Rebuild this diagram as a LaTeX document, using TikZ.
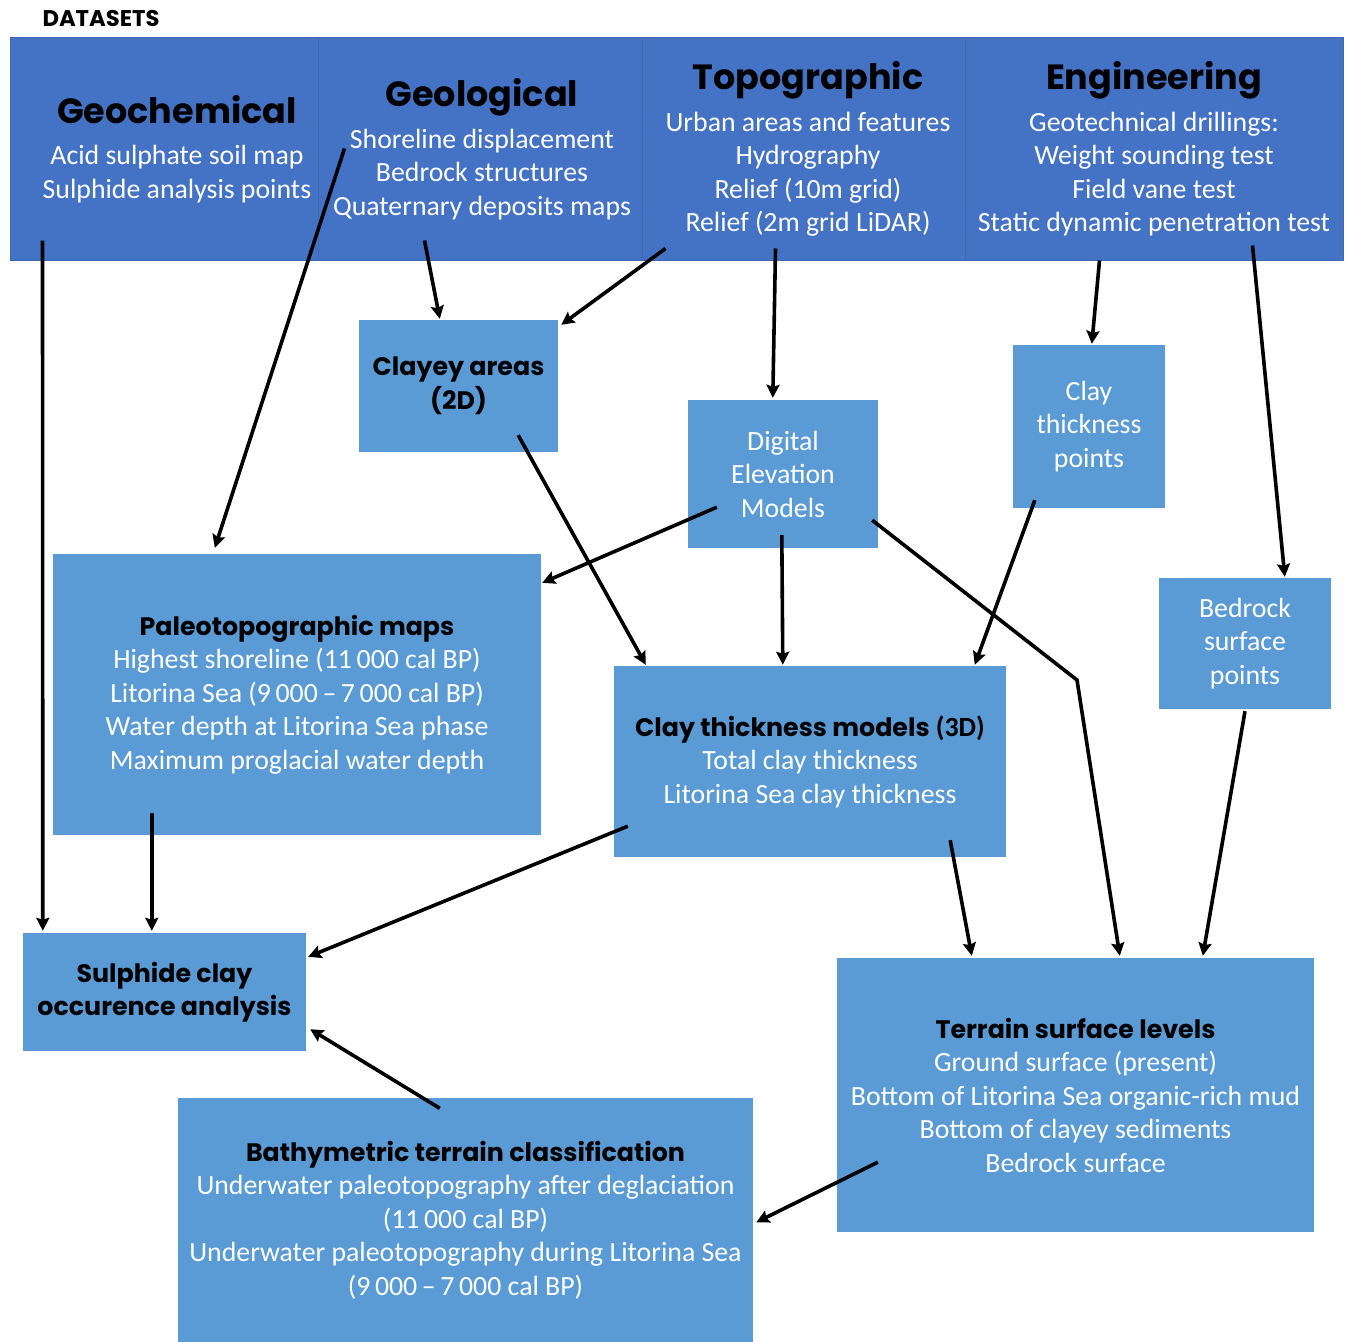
\documentclass[tikz,border=0pt]{standalone}
\usepackage{fontspec}
\setmainfont{Carlito}
\newfontfamily\hdfont{Poppins}
\usetikzlibrary{arrows.meta}
\definecolor{topblue}{HTML}{4472C4}
\definecolor{boxblue}{HTML}{5B9BD5}
\definecolor{celledge}{HTML}{3F68B5}
\newcommand\bodyfont{\fontsize{27.8}{33.5}\selectfont}
\newcommand\hdbig[1]{{\hdfont\bfseries\fontsize{35}{40}\selectfont\color{black}#1}}
\newcommand\hdsmall[1]{{\hdfont\bfseries\fontsize{25.3}{33.5}\selectfont\color{black}#1}}
\tikzset{
  cell/.style={rectangle, fill=topblue, draw=celledge, line width=1pt, inner sep=0pt},
  celltext/.style={inner sep=0pt, text=white, align=center, font=\bodyfont},
  box/.style={rectangle, fill=boxblue, inner sep=0pt, text=white, align=center, font=\bodyfont},
  flow/.style={line width=3.6pt, -{Stealth[length=13pt,width=13pt,inset=2pt]}},
}
\begin{document}
\begin{tikzpicture}[x=1pt,y=-1pt]
\useasboundingbox[fill=white] (0,0) rectangle (1349,1341);

% title
\node[font=\hdfont\bfseries\fontsize{22.7}{24}\selectfont, inner sep=0pt] (title) at (101,18) {DATASETS};

% dataset cells
\node[cell, minimum width=308pt, minimum height=223pt] (gch) at (164,148.5) {};
\node[cell, minimum width=324pt, minimum height=223pt] (gl)  at (480,148.5) {};
\node[cell, minimum width=323pt, minimum height=223pt] (tp)  at (803.5,148.5) {};
\node[cell, minimum width=378pt, minimum height=223pt] (en)  at (1154,148.5) {};

\node[celltext] (gchtxt) at (177,149) {\hdbig{Geochemical}\\[8pt] Acid sulphate soil map\\ Sulphide analysis points};
\node[celltext] (gltxt) at (482,149) {\hdbig{Geological}\\[8pt] Shoreline displacement\\ Bedrock structures\\ Quaternary deposits maps};
\node[celltext] (tptxt) at (808,149) {\hdbig{Topographic}\\[8pt] Urban areas and features\\ Hydrography\\ Relief (10m grid)\\ Relief (2m grid LiDAR)};
\node[celltext] (entxt) at (1154,149) {\hdbig{Engineering}\\[8pt] Geotechnical drillings:\\ Weight sounding test\\ Field vane test\\ Static dynamic penetration test};

% derived products
\node[box, minimum width=199pt, minimum height=132pt] (cla) at (458.5,386) {\hdsmall{Clayey areas}\\\hdsmall{(2D)}};
\node[box, minimum width=190pt, minimum height=148pt] (dem) at (783,474) {Digital\\ Elevation\\ Models};
\node[box, minimum width=152pt, minimum height=163pt] (ctp) at (1089,426.5) {Clay\\ thickness\\ points};
\node[box, minimum width=172pt, minimum height=131pt] (brp) at (1245,643.5) {Bedrock\\ surface\\ points};
\node[box, minimum width=488pt, minimum height=281pt] (pal) at (297,694.5) {\hdsmall{Paleotopographic maps}\\ Highest shoreline (11\,000 cal BP)\\ Litorina Sea (9\,000\,--\,7\,000 cal BP)\\ Water depth at Litorina Sea phase\\ Maximum proglacial water depth};
\node[box, minimum width=392pt, minimum height=191pt] (ctm) at (810,761.5) {\hdsmall{Clay thickness models} {\bfseries\color{black}(3D)}\\ Total clay thickness\\ Litorina Sea clay thickness};
\node[box, minimum width=283pt, minimum height=118pt] (sul) at (164.5,992) {\hdsmall{Sulphide clay}\\\hdsmall{occurence analysis}};
\node[box, minimum width=477pt, minimum height=274pt] (ter) at (1075.5,1095) {\hdsmall{Terrain surface levels}\\ Ground surface (present)\\ Bottom of Litorina Sea organic-rich mud\\ Bottom of clayey sediments\\ Bedrock surface};
\node[box, minimum width=575pt, minimum height=245pt] (bat) at (465.5,1220) {\hdsmall{Bathymetric terrain classification}\\ Underwater paleotopography after deglaciation\\ (11\,000 cal BP)\\ Underwater paleotopography during Litorina Sea\\ (9\,000\,--\,7\,000 cal BP)};

\coordinate (bend) at (1077,680);

% connectors
\draw[flow] ([xshift=33pt,yshift=20pt]gch.south west) -- ([xshift=20pt,yshift=2pt]sul.north west);
\draw[flow] ([xshift=27pt,yshift=112pt]gl.south west) -- ([xshift=162pt,yshift=6pt]pal.north west);
\draw[flow] ([xshift=107pt,yshift=20pt]gl.south west) -- ([xshift=81pt,yshift=1pt]cla.north west);
\draw[flow] ([xshift=24pt,yshift=12pt]tp.south west) -- ([xshift=3pt,yshift=-5pt]cla.north east);
\draw[flow] ([xshift=134pt,yshift=12pt]tp.south west) -- ([xshift=85pt,yshift=2pt]dem.north west);
\draw[flow] ([xshift=135pt]en.south west) -- ([xshift=79pt,yshift=1pt]ctp.north west);
\draw[flow] ([xshift=288pt,yshift=15pt]en.south west) -- ([xshift=126pt,yshift=1pt]brp.north west);
\draw[flow] ([xshift=-40pt,yshift=17pt]cla.south east) -- ([xshift=32pt,yshift=1pt]ctm.north west);
\draw[flow] ([xshift=29pt,yshift=41pt]dem.south west) -- ([xshift=1pt,yshift=-29pt]pal.north east);
\draw[flow] ([xshift=94pt,yshift=13pt]dem.south west) -- ([xshift=169pt,yshift=1pt]ctm.north west);
\draw[flow] ([xshift=-6pt,yshift=28pt]dem.south east) -- (bend) -- ([xshift=283pt,yshift=2pt]ter.north west);
\draw[flow] ([xshift=22pt,yshift=8pt]ctp.south west) -- ([xshift=361pt,yshift=1pt]ctm.north west);
\draw[flow] ([yshift=-2pt]brp.south) -- ([xshift=366pt,yshift=2pt]ter.north west);
\draw[flow] ([xshift=99pt,yshift=22pt]pal.south west) -- ([xshift=129pt,yshift=2pt]sul.north west);
\draw[flow] ([xshift=14pt,yshift=31pt]ctm.south west) -- ([xshift=2pt,yshift=-24pt]sul.north east);
\draw[flow] ([xshift=-56pt,yshift=17pt]ctm.south east) -- ([xshift=135pt,yshift=2pt]ter.north west);
\draw[flow] ([xshift=41pt,yshift=70pt]ter.south west) -- ([xshift=3pt,yshift=-125pt]bat.north east);
\draw[flow] ([xshift=262pt,yshift=-11pt]bat.north west) -- ([xshift=4pt,yshift=22pt]sul.south east);
\end{tikzpicture}
\end{document}
